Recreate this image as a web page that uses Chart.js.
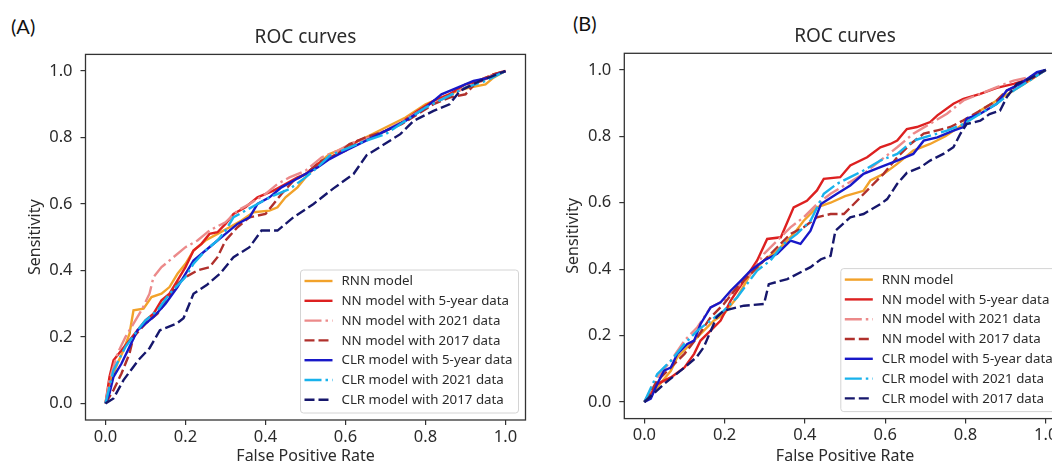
<!DOCTYPE html>
<html lang="en">
<head>
<meta charset="UTF-8">
<title>ROC curves</title>
<script src="https://cdn.jsdelivr.net/npm/chart.js"></script>
<style>
  html, body { margin: 0; padding: 0; width: 1052px; height: 466px; overflow: hidden; background: #fff; }
  .panel { position: absolute; top: 0; }
  .tag { position: absolute; font-family: Lato, "Open Sans", sans-serif; font-size: 20px; color: #111; line-height: 1; }
</style>
</head>
<body>
<div class="tag" style="left:11px; top:16px;">(A)</div>
<div class="tag" style="left:573px; top:13px;">(B)</div>
<canvas id="chartA" class="panel" style="left:0px" width="540" height="466"></canvas>
<canvas id="chartB" class="panel" style="left:538px" width="560" height="466"></canvas>

<script>
// ---- data (FPR, sensitivity) ----
const xTicks = [0, 0.2, 0.4, 0.6, 0.8, 1.0];
const yTicks = [0, 0.2, 0.4, 0.6, 0.8, 1.0];
const seriesLabels = ['RNN model', 'NN model with 5-year data', 'NN model with 2021 data',
  'NN model with 2017 data', 'CLR model with 5-year data', 'CLR model with 2021 data', 'CLR model with 2017 data'];

// panel A
const aRnn = [[0,0],[0.01,0.06],[0.03,0.12],[0.045,0.16],[0.06,0.21],[0.07,0.28],[0.095,0.285],[0.115,0.32],[0.14,0.33],[0.16,0.35],[0.18,0.39],[0.2,0.42],[0.22,0.46],[0.25,0.49],[0.28,0.51],[0.31,0.53],[0.34,0.55],[0.37,0.575],[0.41,0.58],[0.43,0.59],[0.45,0.62],[0.48,0.65],[0.5,0.68],[0.53,0.72],[0.56,0.75],[0.6,0.77],[0.65,0.8],[0.7,0.83],[0.75,0.86],[0.8,0.9],[0.84,0.92],[0.88,0.94],[0.91,0.95],[0.95,0.96],[0.97,0.98],[1,1]];
const aNn5 = [[0,0],[0.01,0.08],[0.02,0.13],[0.04,0.16],[0.06,0.19],[0.08,0.22],[0.1,0.25],[0.12,0.27],[0.14,0.31],[0.16,0.33],[0.18,0.37],[0.2,0.41],[0.22,0.46],[0.24,0.48],[0.26,0.51],[0.28,0.515],[0.3,0.54],[0.32,0.57],[0.35,0.59],[0.38,0.62],[0.42,0.64],[0.45,0.66],[0.48,0.68],[0.5,0.69],[0.53,0.72],[0.56,0.74],[0.6,0.76],[0.63,0.79],[0.67,0.805],[0.7,0.82],[0.74,0.845],[0.78,0.88],[0.82,0.91],[0.86,0.93],[0.9,0.96],[0.94,0.97],[0.97,0.99],[1,1]];
const aNn21 = [[0,0],[0.01,0.07],[0.03,0.15],[0.05,0.2],[0.07,0.24],[0.09,0.28],[0.11,0.33],[0.12,0.38],[0.14,0.41],[0.17,0.44],[0.2,0.47],[0.23,0.49],[0.26,0.52],[0.3,0.545],[0.33,0.58],[0.36,0.6],[0.4,0.63],[0.43,0.66],[0.46,0.68],[0.5,0.7],[0.54,0.74],[0.58,0.76],[0.62,0.785],[0.66,0.8],[0.7,0.82],[0.75,0.855],[0.8,0.89],[0.85,0.92],[0.9,0.95],[0.95,0.98],[1,1]];
const aNn17 = [[0,0],[0.02,0.04],[0.04,0.09],[0.06,0.15],[0.07,0.2],[0.1,0.24],[0.13,0.27],[0.16,0.32],[0.18,0.36],[0.2,0.38],[0.23,0.4],[0.26,0.41],[0.28,0.44],[0.3,0.49],[0.33,0.53],[0.36,0.56],[0.4,0.57],[0.42,0.6],[0.44,0.63],[0.47,0.67],[0.5,0.69],[0.54,0.73],[0.58,0.75],[0.61,0.78],[0.65,0.8],[0.7,0.82],[0.74,0.84],[0.78,0.87],[0.82,0.9],[0.86,0.92],[0.9,0.93],[0.93,0.97],[0.97,0.99],[1,1]];
const aClr5 = [[0,0],[0.01,0.03],[0.02,0.08],[0.04,0.12],[0.06,0.17],[0.08,0.22],[0.1,0.24],[0.12,0.26],[0.15,0.3],[0.18,0.35],[0.2,0.39],[0.22,0.43],[0.25,0.46],[0.28,0.49],[0.3,0.51],[0.33,0.54],[0.36,0.56],[0.38,0.6],[0.41,0.62],[0.44,0.65],[0.47,0.67],[0.5,0.69],[0.53,0.71],[0.56,0.735],[0.6,0.76],[0.65,0.79],[0.7,0.82],[0.75,0.85],[0.8,0.89],[0.84,0.93],[0.88,0.95],[0.92,0.97],[0.96,0.98],[1,1]];
const aClr21 = [[0,0],[0.01,0.05],[0.02,0.1],[0.05,0.17],[0.08,0.22],[0.1,0.25],[0.13,0.28],[0.16,0.33],[0.2,0.38],[0.22,0.42],[0.25,0.46],[0.28,0.49],[0.3,0.52],[0.32,0.56],[0.35,0.58],[0.38,0.6],[0.42,0.625],[0.46,0.645],[0.5,0.68],[0.53,0.71],[0.56,0.745],[0.6,0.765],[0.65,0.79],[0.7,0.81],[0.75,0.85],[0.8,0.89],[0.85,0.92],[0.9,0.95],[0.95,0.97],[1,1]];
const aClr17 = [[0,0],[0.02,0.015],[0.045,0.07],[0.082,0.13],[0.11,0.166],[0.136,0.22],[0.178,0.24],[0.195,0.256],[0.22,0.33],[0.253,0.356],[0.286,0.39],[0.32,0.44],[0.36,0.47],[0.39,0.52],[0.43,0.52],[0.47,0.56],[0.52,0.6],[0.57,0.647],[0.62,0.69],[0.653,0.747],[0.687,0.772],[0.737,0.81],[0.77,0.85],[0.82,0.88],[0.86,0.9],[0.886,0.94],[0.936,0.97],[1,1]];

// panel B
const bRnn = [[0,0],[0.032,0.044],[0.066,0.094],[0.082,0.135],[0.107,0.165],[0.14,0.205],[0.173,0.245],[0.198,0.265],[0.231,0.315],[0.265,0.386],[0.298,0.426],[0.331,0.456],[0.372,0.506],[0.397,0.546],[0.43,0.586],[0.464,0.6],[0.5,0.62],[0.546,0.636],[0.563,0.667],[0.596,0.687],[0.63,0.717],[0.67,0.757],[0.712,0.777],[0.75,0.8],[0.795,0.837],[0.837,0.878],[0.878,0.908],[0.92,0.938],[0.96,0.968],[1,1]];
const bNn5 = [[0,0],[0.032,0.054],[0.066,0.074],[0.1,0.104],[0.124,0.145],[0.14,0.185],[0.165,0.215],[0.19,0.245],[0.215,0.305],[0.248,0.365],[0.281,0.426],[0.306,0.491],[0.34,0.496],[0.372,0.586],[0.405,0.606],[0.43,0.637],[0.447,0.672],[0.488,0.677],[0.513,0.712],[0.555,0.737],[0.588,0.767],[0.613,0.777],[0.63,0.787],[0.654,0.822],[0.679,0.828],[0.712,0.843],[0.73,0.863],[0.77,0.898],[0.795,0.913],[0.837,0.928],[0.878,0.946],[0.92,0.958],[0.96,0.973],[1,1]];
const bNn21 = [[0,0],[0.032,0.074],[0.066,0.124],[0.1,0.185],[0.132,0.225],[0.165,0.285],[0.198,0.305],[0.231,0.345],[0.265,0.386],[0.298,0.446],[0.331,0.486],[0.364,0.526],[0.397,0.556],[0.43,0.596],[0.464,0.627],[0.505,0.657],[0.546,0.687],[0.588,0.727],[0.63,0.767],[0.67,0.808],[0.712,0.838],[0.754,0.868],[0.795,0.908],[0.837,0.928],[0.878,0.948],[0.92,0.968],[0.96,0.978],[1,1]];
const bNn17 = [[0,0],[0.032,0.064],[0.066,0.104],[0.1,0.145],[0.132,0.195],[0.165,0.255],[0.198,0.295],[0.231,0.345],[0.265,0.386],[0.298,0.426],[0.331,0.466],[0.364,0.506],[0.397,0.526],[0.43,0.556],[0.464,0.566],[0.497,0.566],[0.53,0.606],[0.563,0.647],[0.596,0.687],[0.63,0.737],[0.663,0.777],[0.696,0.808],[0.73,0.818],[0.762,0.828],[0.795,0.848],[0.837,0.878],[0.878,0.908],[0.903,0.938],[0.944,0.958],[1,1]];
const bClr5 = [[0,0],[0.016,0.01],[0.032,0.054],[0.049,0.094],[0.066,0.104],[0.082,0.145],[0.107,0.175],[0.124,0.185],[0.14,0.235],[0.165,0.285],[0.19,0.3],[0.215,0.335],[0.24,0.365],[0.265,0.396],[0.298,0.426],[0.331,0.446],[0.364,0.486],[0.389,0.476],[0.414,0.516],[0.44,0.596],[0.48,0.627],[0.513,0.652],[0.546,0.687],[0.588,0.707],[0.63,0.727],[0.67,0.747],[0.696,0.787],[0.73,0.797],[0.77,0.817],[0.795,0.828],[0.803,0.853],[0.837,0.868],[0.878,0.898],[0.903,0.938],[0.936,0.958],[0.96,0.978],[0.978,0.993],[1,1]];
const bClr21 = [[0,0],[0.032,0.084],[0.066,0.124],[0.1,0.175],[0.132,0.215],[0.165,0.245],[0.198,0.275],[0.231,0.315],[0.281,0.396],[0.314,0.426],[0.347,0.476],[0.38,0.506],[0.414,0.546],[0.447,0.627],[0.48,0.657],[0.513,0.677],[0.546,0.697],[0.588,0.727],[0.63,0.747],[0.67,0.787],[0.712,0.802],[0.754,0.817],[0.795,0.837],[0.837,0.868],[0.878,0.898],[0.92,0.938],[0.96,0.968],[1,1]];
const bClr17 = [[0,0],[0.049,0.054],[0.1,0.104],[0.13,0.135],[0.148,0.165],[0.18,0.255],[0.198,0.275],[0.248,0.29],[0.298,0.295],[0.31,0.355],[0.356,0.37],[0.414,0.406],[0.44,0.43],[0.464,0.44],[0.476,0.516],[0.513,0.556],[0.546,0.566],[0.588,0.596],[0.605,0.611],[0.63,0.657],[0.654,0.69],[0.688,0.707],[0.712,0.727],[0.745,0.747],[0.77,0.767],[0.787,0.807],[0.803,0.837],[0.837,0.847],[0.86,0.867],[0.886,0.877],[0.903,0.918],[0.928,0.958],[0.96,0.973],[1,1]];

// ---- styles ----
const seriesColors = ['#f2a22a', '#dd2020', '#ec8a8a', '#b0302c', '#1818c8', '#18b2ec', '#16176c'];
const seriesDash = [[], [], [17, 4, 2.5, 4], [10, 4], [], [17, 4, 2.5, 4], [10, 4]];
const textColor = '#2b2b2b';
Chart.defaults.font.family = '"Noto Sans", sans-serif';
Chart.defaults.color = textColor;

// frame, title and legend inside the axes
const panelPlugin = {
  id: 'panel',
  afterDraw(chart, args, opts) {
    const ctx = chart.ctx, a = chart.chartArea;
    ctx.save();
    ctx.strokeStyle = '#333';
    ctx.lineWidth = 1.3;
    ctx.strokeRect(a.left, a.top, a.right - a.left, a.bottom - a.top);

    ctx.fillStyle = textColor;
    ctx.font = '19px "Noto Sans"';
    ctx.textAlign = 'center';
    ctx.textBaseline = 'middle';
    ctx.fillText(opts.title, (a.left + a.right) / 2, opts.titleY);

    // legend box, lower right
    const w = 218, h = 143;
    const x0 = a.right - 7 - w, y0 = a.bottom - 7 - h;
    ctx.beginPath();
    ctx.roundRect(x0, y0, w, h, 3);
    ctx.fillStyle = 'rgba(255,255,255,0.85)';
    ctx.fill();
    ctx.strokeStyle = '#d4d4d4';
    ctx.lineWidth = 1;
    ctx.stroke();

    ctx.font = '13.3px "Noto Sans"';
    ctx.textAlign = 'left';
    chart.data.datasets.forEach((ds, i) => {
      const yy = y0 + 11 + i * 19.8;
      ctx.beginPath();
      ctx.setLineDash(ds.borderDash);
      ctx.strokeStyle = ds.borderColor;
      ctx.lineWidth = ds.borderWidth;
      ctx.moveTo(x0 + 4, yy);
      ctx.lineTo(x0 + 32, yy);
      ctx.stroke();
      ctx.setLineDash([]);
      ctx.fillStyle = textColor;
      ctx.fillText(ds.label, x0 + 41, yy + 0.5);
    });
    ctx.restore();
  }
};

function makeChart(id, series, g) {
  const canvas = document.getElementById(id);
  const n = series.length;
  const datasets = series.map((s, i) => ({
    label: seriesLabels[i],
    data: s.map(p => ({ x: p[0], y: p[1] })),
    borderColor: seriesColors[i],
    borderDash: seriesDash[i],
    borderWidth: 2.4,
    pointRadius: 0,
    tension: 0,
    fill: false,
    order: n - 1 - i
  }));
  const padLeft = 26;
  return new Chart(canvas, {
    type: 'line',
    data: { datasets },
    plugins: [panelPlugin],
    options: {
      responsive: false,
      animation: false,
      events: [],
      layout: { padding: { left: padLeft, top: g.top, right: canvas.width - g.right, bottom: 0 } },
      plugins: {
        legend: { display: false },
        tooltip: { enabled: false },
        panel: { title: 'ROC curves', titleY: g.titleY }
      },
      scales: {
        x: {
          type: 'linear', min: -0.05, max: 1.05,
          afterBuildTicks: s => { s.ticks = xTicks.map(v => ({ value: v })); },
          afterFit: s => { s.height = canvas.height - g.bottom; },
          grid: { drawOnChartArea: false, drawTicks: true, tickLength: 5, color: '#333', lineWidth: 1.2 },
          border: { display: false },
          ticks: { font: { size: 16.5 }, padding: 2, maxRotation: 0, callback: v => v.toFixed(1) },
          title: { display: true, text: 'False Positive Rate', font: { size: 16 }, padding: { top: 0, bottom: 0 } }
        },
        y: {
          type: 'linear', min: -0.05, max: 1.05,
          afterBuildTicks: s => { s.ticks = yTicks.map(v => ({ value: v })); },
          afterFit: s => { s.width = g.left - padLeft; },
          grid: { drawOnChartArea: false, drawTicks: true, tickLength: 5, color: '#333', lineWidth: 1.2 },
          border: { display: false },
          ticks: { font: { size: 16.5 }, padding: 8, callback: v => v.toFixed(1) },
          title: { display: true, text: 'Sensitivity', font: { size: 16 }, padding: { top: 0, bottom: 0 } }
        }
      }
    }
  });
}

makeChart('chartA', [aRnn, aNn5, aNn21, aNn17, aClr5, aClr21, aClr17],
  { left: 85.5, right: 525.5, top: 54.4, bottom: 420, titleY: 38 });
makeChart('chartB', [bRnn, bNn5, bNn21, bNn17, bClr5, bClr21, bClr17],
  { left: 86.3, right: 527.8, top: 53.3, bottom: 418.6, titleY: 36.7 });
</script>
</body>
</html>
